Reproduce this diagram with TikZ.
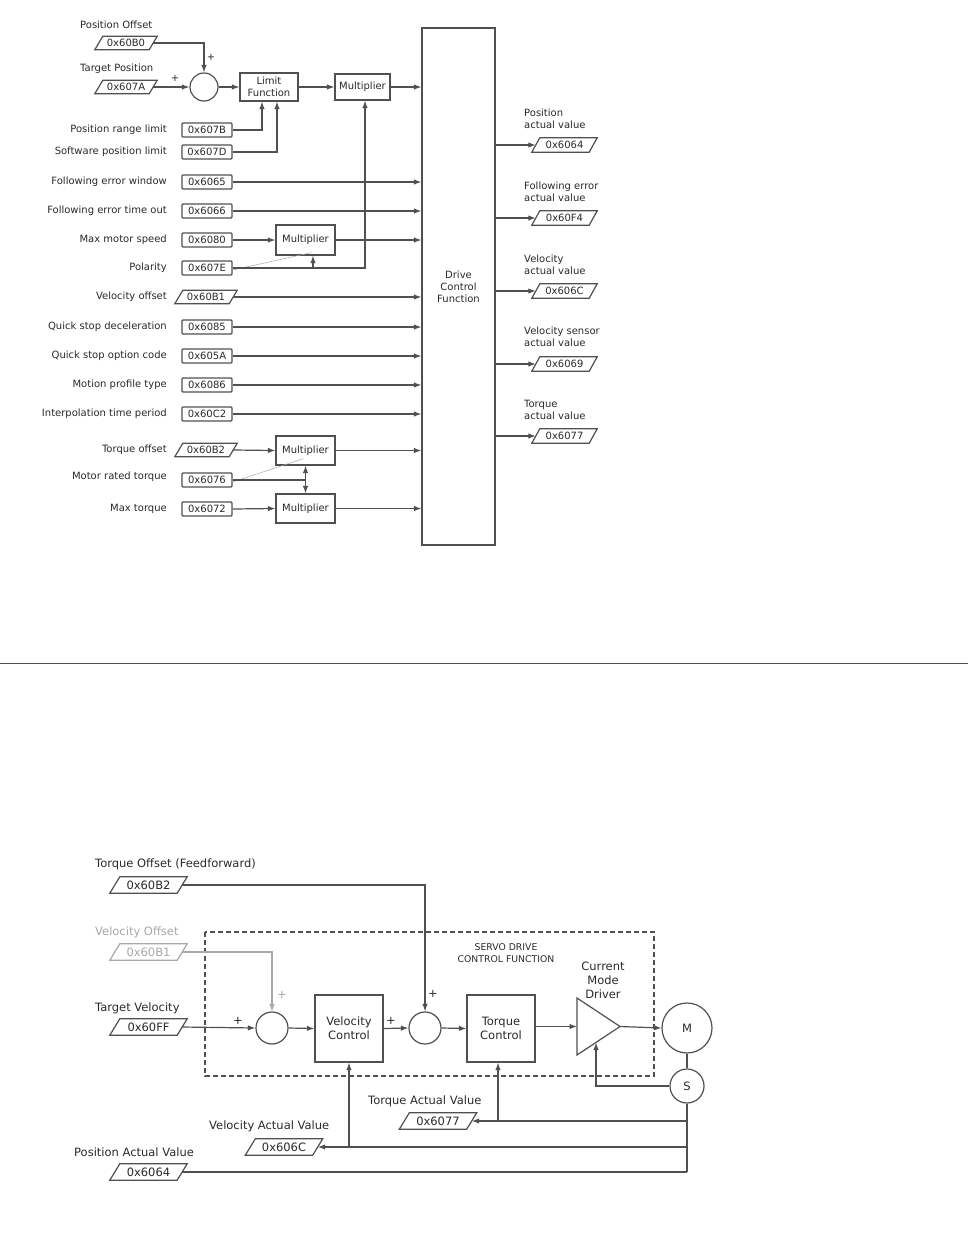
\documentclass[tikz,border=0pt]{standalone}
\usepackage{fontspec}
\setmainfont{DejaVu Sans}
\usetikzlibrary{arrows.meta}
\definecolor{ln}{HTML}{505050}
\definecolor{tx}{HTML}{2A2A2A}
\definecolor{lg}{HTML}{A8A8A8}
\tikzset{
 ft/.style={font=\fontsize{10}{12}\selectfont, text=tx},
 fb/.style={font=\fontsize{11.5}{14}\selectfont, text=tx},
 box/.style={draw=ln, line width=1.2pt, fill=white, align=center, inner sep=0pt},
 val/.style={box, ft, rounded corners=1pt, minimum width=50pt, minimum height=14pt},
 lbl/.style={ft, inner sep=0pt, align=left},
 lblb/.style={fb, inner sep=0pt},
 pgt/.style={ft, inner sep=0pt, minimum width=54pt, minimum height=13pt},
 pgo/.style={ft, inner sep=0pt, minimum width=57pt, minimum height=14pt},
 pgb/.style={fb, inner sep=0pt, minimum width=67pt, minimum height=16pt},
 sumc/.style={circle, draw=ln, line width=1.2pt, fill=white, inner sep=0pt},
 wire/.style={draw=ln, line width=1.2pt},
 arr/.style={wire, -{Latex[length=7.5pt,width=5.5pt]}},
 thinl/.style={draw=lg, line width=0.5pt},
}
\newcommand{\pgram}[7]{%
 \node[#1, text=#6] (#2) at (#3) {#4};
 \draw[draw=#7, line width=1.2pt] ([xshift=-#5]#2.south west) -- ([xshift=#5]#2.north west) -- ([xshift=#5]#2.north east) -- ([xshift=-#5]#2.south east) -- cycle;}
\begin{document}
\begin{tikzpicture}[x=1pt,y=-1pt]
\useasboundingbox (0,0) rectangle (968,1240);
\fill[white] (0,0) rectangle (968,1240);
% ================= TOP =================
\node[lbl, anchor=west] at (80,25) {Position Offset};
\pgram{pgt}{pOff}{126,43}{0x60B0}{4pt}{tx}{ln}
\node[lbl, anchor=west] at (80,69) {Target Position};
\pgram{pgt}{pTgt}{126,87}{0x607A}{4pt}{tx}{ln}
\node[sumc, minimum size=28pt] (s1) at (204,87) {};
\node[lbl] at (211,57) {+};
\node[lbl] at (175,78) {+};
\node[box, ft, minimum width=58pt, minimum height=28pt] (lim) at (269,87) {Limit\\Function};
\node[box, ft, minimum width=55pt, minimum height=26pt] (m1) at (362.5,87) {Multiplier};
\node[box, ft, minimum width=73pt, minimum height=517pt] (dcf) at (458.5,286.5) {Drive\\Control\\Function};
\draw[arr] (pOff.east) -| (s1.north);
\draw[arr] (pTgt.east) -- (s1.west);
\draw[arr] (s1.east) -- (lim.west);
\draw[arr] (lim.east) -- (m1.west);
\draw[arr] (m1.east) -- (m1.east -| dcf.west);
% limits
\node[lbl, anchor=east] at (167,130) {Position range limit};
\node[val] (v607B) at (207,130) {0x607B};
\node[lbl, anchor=east] at (167,152) {Software position limit};
\node[val] (v607D) at (207,152) {0x607D};
\draw[arr] (v607B.east) -| ([xshift=-7pt]lim.south);
\draw[arr] (v607D.east) -| ([xshift=8pt]lim.south);
% rows
\node[lbl, anchor=east] at (167,182) {Following error window};
\node[val] (v6065) at (207,182) {0x6065};
\draw[arr] (v6065.east) -- (v6065.east -| dcf.west);
\node[lbl, anchor=east] at (167,211) {Following error time out};
\node[val] (v6066) at (207,211) {0x6066};
\draw[arr] (v6066.east) -- (v6066.east -| dcf.west);
\node[lbl, anchor=east] at (167,240) {Max motor speed};
\node[val] (v6080) at (207,240) {0x6080};
\node[box, ft, minimum width=59pt, minimum height=30pt] (m2) at (305.5,240) {Multiplier};
\draw[arr] (v6080.east) -- (m2.west);
\draw[arr] (m2.east) -- (m2.east -| dcf.west);
\node[lbl, anchor=east] at (167,268) {Polarity};
\node[val] (v607E) at (207,268) {0x607E};
\draw[thinl] ([yshift=-2pt]v607E.east) -- ([xshift=6pt,yshift=3pt]m2.south);
\draw[arr] (v607E.east) -| ([xshift=2.5pt]m1.south);
\coordinate (pj) at ([xshift=7.5pt]m2.south |- v607E.east);
\draw[arr] (pj) -- ([xshift=7.5pt]m2.south);
\node[lbl, anchor=east] at (167,297) {Velocity offset};
\pgram{pgt}{pVo}{206,297}{0x60B1}{4pt}{tx}{ln}
\draw[arr] (pVo.east) -- (pVo.east -| dcf.west);
\node[lbl, anchor=east] at (167,327) {Quick stop deceleration};
\node[val] (v6085) at (207,327) {0x6085};
\draw[arr] (v6085.east) -- (v6085.east -| dcf.west);
\node[lbl, anchor=east] at (167,356) {Quick stop option code};
\node[val] (v605A) at (207,356) {0x605A};
\draw[arr] (v605A.east) -- (v605A.east -| dcf.west);
\node[lbl, anchor=east] at (167,385) {Motion profile type};
\node[val] (v6086) at (207,385) {0x6086};
\draw[arr] (v6086.east) -- (v6086.east -| dcf.west);
\node[lbl, anchor=east] at (167,414) {Interpolation time period};
\node[val] (v60C2) at (207,414) {0x60C2};
\draw[arr] (v60C2.east) -- (v60C2.east -| dcf.west);
% torque
\node[lbl, anchor=east] at (167,450) {Torque offset};
\pgram{pgt}{pTo}{206,450}{0x60B2}{4pt}{tx}{ln}
\node[box, ft, minimum width=59pt, minimum height=29pt] (m3) at (305.5,450.5) {Multiplier};
\draw[arr] (pTo.east) -- (m3.west);
\draw[arr] (m3.east) -- (m3.east -| dcf.west);
\node[lbl, anchor=east] at (167,477) {Motor rated torque};
\node[val] (v6076) at (207,480) {0x6076};
\node[lbl, anchor=east] at (167,509) {Max torque};
\node[val] (v6072) at (207,509) {0x6072};
\node[box, ft, minimum width=59pt, minimum height=29pt] (m4) at (305.5,508.5) {Multiplier};
\draw[arr] (v6072.east) -- (m4.west);
\draw[arr] (m4.east) -- (m4.east -| dcf.west);
\draw[thinl] ([yshift=-2pt]v6076.east) -- ([xshift=-2pt,yshift=7pt]m3.south);
\coordinate (tj) at (m3.south |- v6076.east);
\draw[wire] (v6076.east) -- (tj);
\draw[arr] (tj) -- (m3.south);
\draw[arr] (tj) -- (m4.north);
% outputs
\node[lbl, anchor=west] at (524,119) {Position\\actual value};
\pgram{pgo}{o1}{564.5,145}{0x6064}{4pt}{tx}{ln}
\draw[arr] (dcf.east |- o1) -- (o1.west);
\node[lbl, anchor=west] at (524,192) {Following error\\actual value};
\pgram{pgo}{o2}{564.5,218}{0x60F4}{4pt}{tx}{ln}
\draw[arr] (dcf.east |- o2) -- (o2.west);
\node[lbl, anchor=west] at (524,265) {Velocity\\actual value};
\pgram{pgo}{o3}{564.5,291}{0x606C}{4pt}{tx}{ln}
\draw[arr] (dcf.east |- o3) -- (o3.west);
\node[lbl, anchor=west] at (524,337) {Velocity sensor\\actual value};
\pgram{pgo}{o4}{564.5,364}{0x6069}{4pt}{tx}{ln}
\draw[arr] (dcf.east |- o4) -- (o4.west);
\node[lbl, anchor=west] at (524,410) {Torque\\actual value};
\pgram{pgo}{o5}{564.5,436}{0x6077}{4pt}{tx}{ln}
\draw[arr] (dcf.east |- o5) -- (o5.west);
% separator
\draw[draw=ln, line width=1pt] (0,663) -- (968,663);
% ================= BOTTOM =================
\draw[draw=ln, line width=1.2pt, dash pattern=on 5pt off 3pt] (205,932) rectangle (654,1076);
\node[font=\fontsize{9.3}{12}\selectfont, text=tx, align=center, inner sep=0pt] at (506,953) {SERVO DRIVE\\CONTROL FUNCTION};
\node[lblb, anchor=west] at (95,864) {Torque Offset (Feedforward)};
\pgram{pgb}{bT}{148.5,885}{0x60B2}{5pt}{tx}{ln}
\node[lblb, anchor=west, text=lg] at (95,932) {Velocity Offset};
\pgram{pgb}{bV}{148.5,952}{0x60B1}{5pt}{lg}{lg}
\node[lblb, anchor=west] at (95,1008) {Target Velocity};
\pgram{pgb}{bTV}{148.5,1027}{0x60FF}{5pt}{tx}{ln}
\node[sumc, minimum size=32pt] (sA) at (272,1028) {};
\node[box, fb, minimum width=68pt, minimum height=67pt] (vc) at (349,1028.5) {Velocity\\Control};
\node[sumc, minimum size=32pt] (sB) at (425,1028) {};
\node[box, fb, minimum width=68pt, minimum height=67pt] (tc) at (501,1028.5) {Torque\\Control};
\draw[wire, fill=white] (577,998) -- (620,1026.5) -- (577,1055) -- cycle;
\coordinate (drvL) at (577,1026.5);
\coordinate (drvT) at (620,1026.5);
\coordinate (drvB) at (596,1042.5);
\node[fb, align=center, inner sep=0pt] at (603,980) {Current\\Mode\\Driver};
\node[sumc, fb, minimum size=50pt] (M) at (687,1028) {M};
\node[sumc, fb, minimum size=34pt] (S) at (687,1086) {S};
\node[lblb] at (238,1021) {+};
\node[lblb, text=lg] at (282,995) {+};
\node[lblb] at (391,1021) {+};
\node[lblb] at (433,994) {+};
\draw[arr] (bT.east) -| (sB.north);
\draw[arr, draw=lg] (bV.east) -| (sA.north);
\draw[arr] (bTV.east) -- (sA.west);
\draw[arr] (sA.east) -- (vc.west);
\draw[arr] (vc.east) -- (sB.west);
\draw[arr] (sB.east) -- (tc.west);
\draw[arr] (tc.east |- drvL) -- (drvL);
\draw[arr] (drvT) -- (M.west);
\draw[wire] (M.south) -- (S.north);
\draw[arr] (S.west) -| (drvB);
% feedback
\node[lblb, anchor=west] at (368,1101) {Torque Actual Value};
\pgram{pgb}{f77}{438,1121}{0x6077}{5pt}{tx}{ln}
\node[lblb, anchor=west] at (209,1126) {Velocity Actual Value};
\pgram{pgb}{f6C}{284,1147}{0x606C}{5pt}{tx}{ln}
\node[lblb, anchor=west] at (74,1152) {Position Actual Value};
\pgram{pgb}{f64}{148.5,1172}{0x6064}{5pt}{tx}{ln}
\coordinate (j1) at (687,1121);
\coordinate (j2) at (687,1147);
\coordinate (j3) at (687,1172);
\draw[wire] (S.south) -- (j3);
\draw[arr] (j1) -- (f77.east);
\draw[arr] ([xshift=-3pt]tc.south |- j1) -- ([xshift=-3pt]tc.south);
\draw[arr] (j2) -- (f6C.east);
\draw[arr] (vc.south |- j2) -- (vc.south);
\draw[wire] (j3) -- (f64.east);
\end{tikzpicture}
\end{document}
